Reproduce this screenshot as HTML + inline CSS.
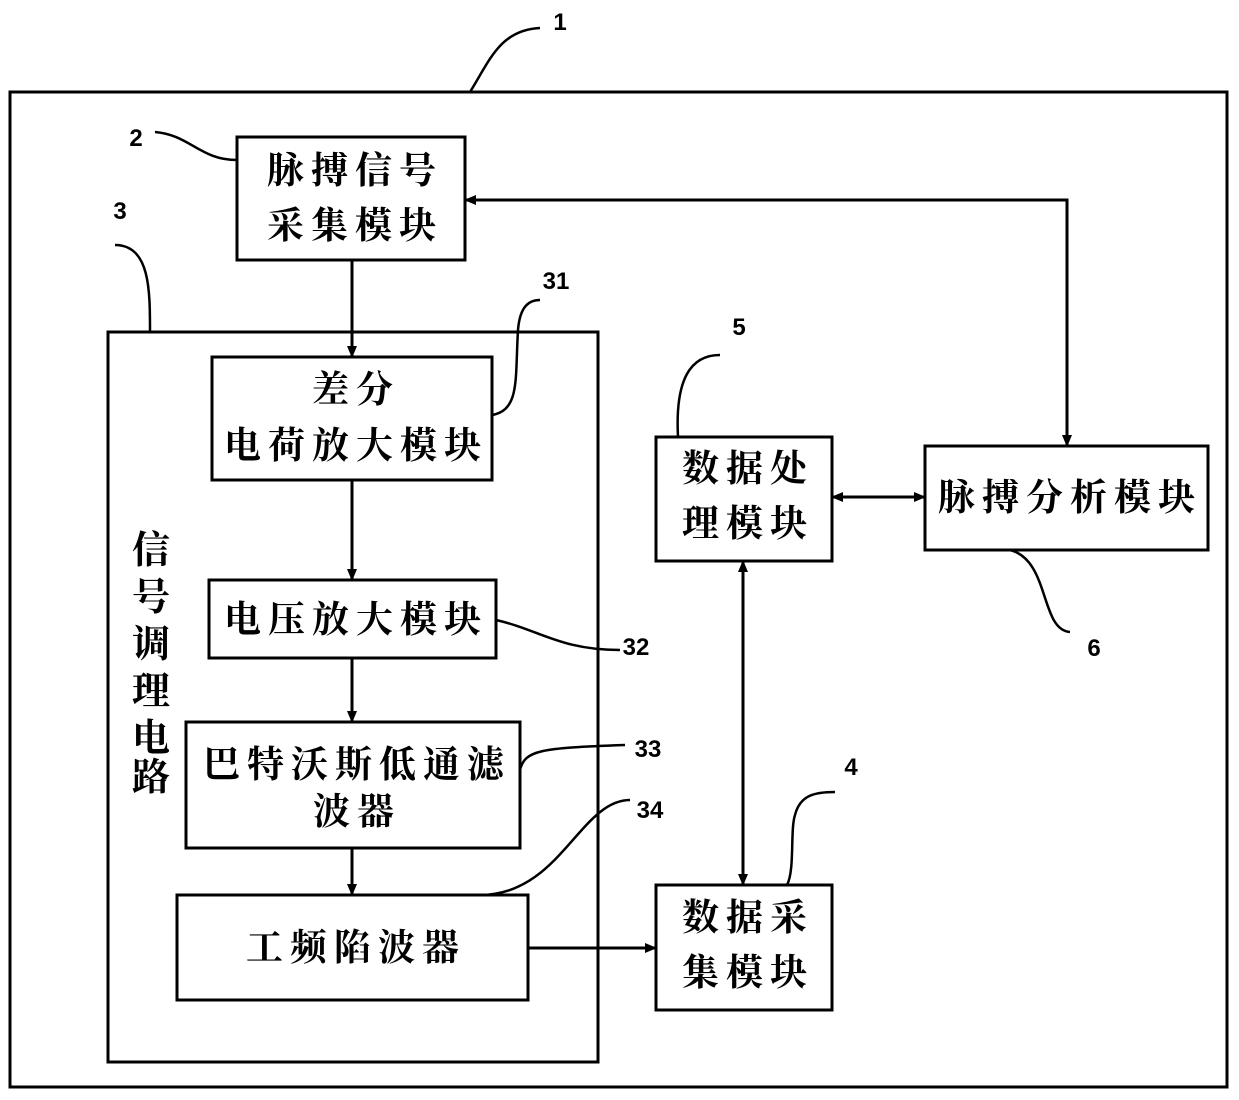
<!DOCTYPE html>
<html><head><meta charset="utf-8"><style>
html,body{margin:0;padding:0;background:#fff}
svg{display:block}
text{font-family:"Liberation Serif","Noto Serif CJK SC","Noto Sans CJK SC",serif;font-weight:bold;fill:#000}
.c{font-size:37px;text-anchor:middle;letter-spacing:7px}
.v{font-size:38px;text-anchor:middle}
.n{font-family:"Liberation Sans",sans-serif;font-size:24px;text-anchor:middle}
</style></head><body>
<svg width="1239" height="1100" viewBox="0 0 1239 1100">
<defs><marker id="a" markerWidth="12" markerHeight="10" refX="11" refY="5" orient="auto-start-reverse" markerUnits="userSpaceOnUse"><path d="M0,0 L12,5 L0,10 z" fill="#000"/></marker></defs>
<g fill="none" stroke="#000" stroke-width="3">
<rect x="10" y="92" width="1217" height="995"/>
<rect x="237" y="137" width="228" height="123"/>
<rect x="108" y="332" width="490" height="730"/>
<rect x="212" y="357" width="280" height="123"/>
<rect x="209" y="580" width="287" height="78"/>
<rect x="186" y="722" width="334" height="126"/>
<rect x="177" y="895" width="351" height="105"/>
<rect x="656" y="437" width="176" height="124"/>
<rect x="925" y="446" width="283" height="104"/>
<rect x="656" y="885" width="176" height="125"/>
</g>
<g fill="none" stroke="#000" stroke-width="3">
<line x1="352" y1="260" x2="352" y2="357" marker-end="url(#a)"/>
<line x1="352" y1="480" x2="352" y2="580" marker-end="url(#a)"/>
<line x1="352" y1="658" x2="352" y2="722" marker-end="url(#a)"/>
<line x1="352" y1="848" x2="352" y2="895" marker-end="url(#a)"/>
<line x1="528" y1="948" x2="656" y2="948" marker-end="url(#a)"/>
<line x1="743" y1="561" x2="743" y2="885" marker-start="url(#a)" marker-end="url(#a)"/>
<line x1="832" y1="497" x2="925" y2="497" marker-start="url(#a)" marker-end="url(#a)"/>
<polyline points="465,200 1067,200 1067,446" marker-start="url(#a)" marker-end="url(#a)"/>
</g>
<g fill="none" stroke="#000" stroke-width="2.5">
<path d="M470,92 C490,60 500,30 540,28"/>
<path d="M155,132 C190,135 200,160 237,160"/>
<path d="M115,245 C150,245 150,290 150,332"/>
<path d="M492,415 C520,410 515,380 518,330 C520,305 530,300 540,300"/>
<path d="M678,437 C675,380 690,355 720,355"/>
<path d="M1010,550 C1050,560 1040,630 1070,632"/>
<path d="M496,620 C540,630 560,650 620,650"/>
<path d="M520,770 C525,750 540,748 625,745"/>
<path d="M480,895 C560,895 580,800 630,800"/>
<path d="M787,885 C795,870 790,830 795,815 C800,795 815,792 835,792"/>
</g>
<text class="c" x="355" y="183">脉搏信号</text>
<text class="c" x="355" y="238">采集模块</text>
<text class="c" x="356" y="402">差分</text>
<text class="c" x="356" y="458">电荷放大模块</text>
<text class="c" x="356" y="632">电压放大模块</text>
<text class="c" x="357" y="777">巴特沃斯低通滤</text>
<text class="c" x="357" y="824">波器</text>
<text class="c" x="356" y="960">工频陷波器</text>
<text class="c" x="748" y="481">数据处</text>
<text class="c" x="748" y="536">理模块</text>
<text class="c" x="1070" y="510">脉搏分析模块</text>
<text class="c" x="748" y="930">数据采</text>
<text class="c" x="748" y="985">集模块</text>
<text class="v" x="151" y="563">信</text>
<text class="v" x="151" y="610">号</text>
<text class="v" x="151" y="657">调</text>
<text class="v" x="151" y="704">理</text>
<text class="v" x="151" y="751">电</text>
<text class="v" x="151" y="790">路</text>
<text class="n" x="560" y="30">1</text>
<text class="n" x="136" y="146">2</text>
<text class="n" x="120" y="219">3</text>
<text class="n" x="556" y="289">31</text>
<text class="n" x="739" y="335">5</text>
<text class="n" x="1094" y="656">6</text>
<text class="n" x="636" y="655">32</text>
<text class="n" x="648" y="757">33</text>
<text class="n" x="650" y="818">34</text>
<text class="n" x="851" y="775">4</text>
</svg>
</body></html>
